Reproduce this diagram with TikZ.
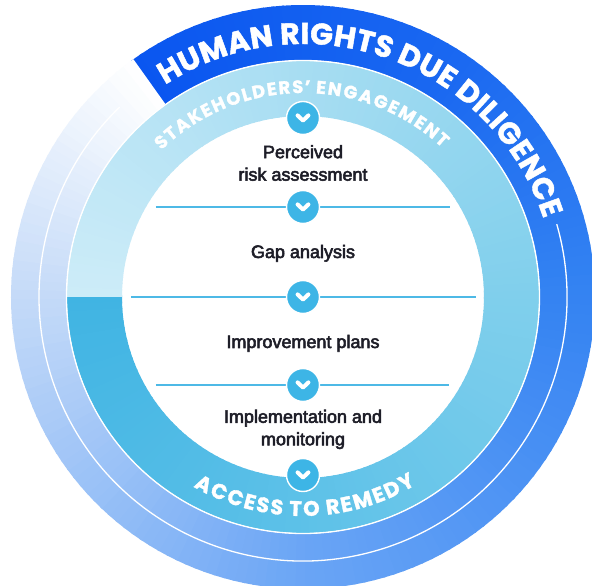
\documentclass[tikz,border=0pt]{standalone}
\usepackage{fontspec}
\usepackage{tikz}
\usepackage{xcolor}
\usetikzlibrary{decorations.text}
\newfontfamily\labelfont[FakeBold=3]{Liberation Sans}
\newfontfamily\ringfont[FakeBold=1.5]{Poppins}

\definecolor{hrA}{HTML}{0A56F0}
\definecolor{hrB}{HTML}{1967F1}
\definecolor{hrC}{HTML}{3483F2}
\definecolor{hrD}{HTML}{6AA5F5}
\definecolor{hrE}{HTML}{C4DAF8}
\definecolor{seA}{HTML}{CDECF8}
\definecolor{seB}{HTML}{A7DDF2}
\definecolor{seC}{HTML}{80CFEC}
\definecolor{seD}{HTML}{5DC1E8}
\definecolor{seE}{HTML}{40B4E3}
\definecolor{chevblue}{HTML}{3DB5E6}
\definecolor{sepblue}{HTML}{4DB9E6}
\definecolor{labelgray}{HTML}{1E1E28}

\newcommand{\ringband}[7]{%
  \foreach \k in {1,...,#7}{%
    \pgfmathsetmacro\angA{#3+((#4)-(#3))*(\k-1)/#7-0.5*sign((#4)-(#3))}%
    \pgfmathsetmacro\angB{#3+((#4)-(#3))*\k/#7}%
    \pgfmathtruncatemacro\mixp{100*(\k-0.5)/#7}%
    \fill[#6!\mixp!#5] (\angA:#1) arc[start angle=\angA, end angle=\angB, radius=#1]
      -- (\angB:#2) arc[start angle=\angB, end angle=\angA, radius=#2] -- cycle;
  }%
}

\begin{document}
\begin{tikzpicture}[x=1pt, y=1pt,
                    sepline/.style={draw=sepblue, line width=1.2pt},
                    chev/.style={circle, fill=chevblue, draw=white, line width=1.4pt,
                                 minimum size=33pt, inner sep=0pt,
                                 path picture={\draw[white, line width=4pt, line cap=round, line join=round]
                                   ([shift={(-5.4pt,2.6pt)}]path picture bounding box.center)
                                   -- ([shift={(0pt,-2.6pt)}]path picture bounding box.center)
                                   -- ([shift={(5.4pt,2.6pt)}]path picture bounding box.center);}},
                    steplabel/.style={font=\labelfont\fontsize{18}{22.5}\selectfont,
                                      text=labelgray, align=center, inner sep=0pt},
                    ringtext/.style={font=\ringfont\bfseries\fontsize{#1}{#1}\selectfont}]
    \useasboundingbox (-303,-289) rectangle (289,297);
    \fill[white] (-303,-289) rectangle (289,297);

    \ringband{237}{292}{125.5}{60}{hrA}{hrB}{33}
    \ringband{237}{292}{60}{0}{hrB}{hrC}{30}
    \ringband{237}{292}{0}{-90}{hrC}{hrD}{45}
    \ringband{237}{292}{-90}{-180}{hrD}{hrE}{45}
    \ringband{237}{292}{-180}{-234.5}{hrE}{white}{28}
    \draw[white, line width=1.3pt] (16:264) arc[start angle=16, end angle=-226, radius=264];

    \ringband{181}{236}{-180}{-90}{seE}{seD}{45}
    \ringband{181}{236}{-90}{0}{seD}{seC}{45}
    \ringband{181}{236}{0}{90}{seC}{seB}{45}
    \ringband{181}{236}{90}{180}{seB}{seA}{45}
    \draw[white, line width=1.3pt] (0,0) circle[radius=236.5];

    \draw[sepline] (-147,90) -- (147,90);
    \draw[sepline] (-172,0) -- (173,0);
    \draw[sepline] (-147,-88) -- (146,-88);

    \node[chev] (c1) at (0,179) {};
    \node[chev] (c2) at (0,90) {};
    \node[chev] (c3) at (0,0) {};
    \node[chev] (c4) at (0,-88) {};
    \node[chev] (c5) at (0,-178) {};

    \node[steplabel] (risk) at (0,134) {Perceived\\risk assessment};
    \node[steplabel, anchor=base] (gap) at (0,39) {Gap analysis};
    \node[steplabel, anchor=base] (plans) at (0,-51) {Improvement plans};
    \node[steplabel] (monit) at (0,-132.4) {Implementation and\\monitoring};

    \path[ringtext=30, decorate, decoration={text effects along path,
          text={HUMAN RIGHTS DUE DILIGENCE},
          text effects/.cd, text along path, fit text to path, characters={text=white}}]
        (123:253) arc[start angle=123, end angle=18, radius=253];
    \path[ringtext=18, decorate, decoration={text effects along path,
          text={STAKEHOLDERS’ ENGAGEMENT},
          text effects/.cd, text along path, fit text to path, characters={text=white}}]
        (134:204) arc[start angle=134, end angle=47, radius=204];
    \path[ringtext=21, decorate, decoration={text effects along path,
          text={ACCESS TO REMEDY},
          text effects/.cd, text along path, fit text to path, characters={text=white}}]
        (-120:219) arc[start angle=-120, end angle=-59, radius=219];
\end{tikzpicture}
\end{document}
